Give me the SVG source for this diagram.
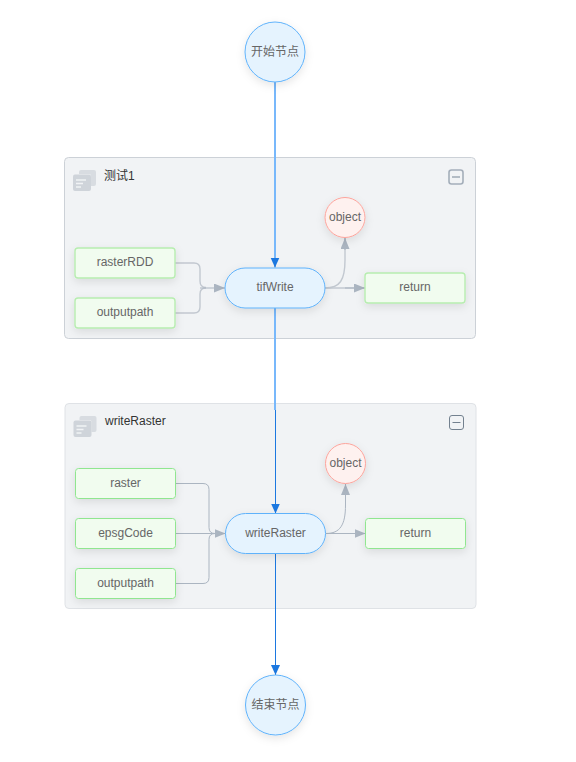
<svg xmlns="http://www.w3.org/2000/svg" width="576" height="762" viewBox="0 0 576 762">
<style>
text{font-family:"Liberation Sans","Noto Sans CJK SC",sans-serif;font-size:12px;fill:#666;text-anchor:middle;dominant-baseline:central}
.group{fill:#f1f3f5;stroke-width:1}
.title{fill:#333;text-anchor:start}
.task{fill:#f1fcef;stroke:#90e690;stroke-width:1}
.soft{stroke:#b7edb0;stroke-width:1.400}
.pill,.circle{fill:#e5f3fe;stroke:#5fb2fb;stroke-width:1}
.obj{fill:#fef1ef;stroke:#fda49c;stroke-width:1}
.edge{fill:none;stroke:#abb5c1;stroke-width:1}
.edge2{fill:none;stroke:#c2c8d0;stroke-width:1.400}
.icon{fill:#cfd4da}
.blue{fill:none;stroke:#78b8fb;stroke-width:2}
.dark{fill:none;stroke:#1c78e0;stroke-width:1}
.btn{fill:none;stroke:#a4aeba;stroke-width:1.600}
.btn2{fill:none;stroke:#73818f;stroke-width:1}
</style>
<defs>
<filter id="sh" x="-30%" y="-30%" width="160%" height="170%"><feDropShadow dx="0" dy="3" stdDeviation="4" flood-color="#000" flood-opacity="0.1"/></filter>
<marker id="ga" markerUnits="userSpaceOnUse" markerWidth="12" markerHeight="10" refX="11" refY="4.500" orient="auto"><path d="M0 0L11 4.500L0 9Z" fill="#abb5c1"/></marker>
<marker id="ba" markerUnits="userSpaceOnUse" markerWidth="10" markerHeight="12" refX="10" refY="4.500" orient="auto"><path d="M0 0L10 4.500L0 9Z" fill="#1c78e0"/></marker>
<g id="ic"><rect x="6" y="1" width="17" height="16" rx="2" class="icon" opacity=".75"/><rect x="0" y="5" width="18" height="17" rx="2" fill="#f1f3f5"/><rect x="0" y="5.500" width="18" height="16.500" rx="2" class="icon"/><path d="M3 11h10M3 14.500h7M3 18h5" stroke="#f1f3f5" stroke-width="1.300" fill="none"/></g>
</defs>

<g id="group-test1">
<rect class="group" stroke="#ccd1d7" x="64.500" y="157.500" width="411" height="181" rx="4"/>
<use href="#ic" x="73" y="169"/>
<text class="title" x="104" y="176">测试1</text>
<rect class="btn" x="449" y="170" width="14" height="14" rx="2.500"/><path class="btn" d="M452 177h8"/>
</g>
<g id="group-writeRaster">
<rect class="group" stroke="#dfe2e6" stroke-width="1.500" x="65" y="403.500" width="411" height="205" rx="4"/>
<use href="#ic" x="73.500" y="415"/>
<text class="title" x="105" y="421">writeRaster</text>
<rect class="btn2" x="449.500" y="415.500" width="14" height="14" rx="2.500"/><path class="btn2" d="M452.500 422.500h8"/>
</g>

<g id="connectors">
<path class="edge2" d="M175 263H194Q200 263 200 269V281Q200 287.500 206 287.500"/>
<path class="edge2" d="M175 313H194Q200 313 200 307V294Q200 288 206 288"/>
<path class="edge" d="M200 288H225" marker-end="url(#ga)"/>
<path class="edge2" d="M325 288C340 288 345 280 345 260V238"/>
<path class="edge" d="M345 250V238" marker-end="url(#ga)"/>
<path class="edge2" d="M325 288H365"/>
<path class="edge" d="M345 288H365" marker-end="url(#ga)"/>
<path class="edge" d="M176 483.500H203Q209 483.500 209 489.500V527.500Q209 533.500 215 533.500"/>
<path class="edge" d="M176 583.500H203Q209 583.500 209 577.500V539.500Q209 533.500 215 533.500"/>
<path class="edge" d="M176 533.500H225.500" marker-end="url(#ga)"/>
<path class="edge" d="M326 533.500C340 533.500 345.500 525 345.500 505V484" marker-end="url(#ga)"/>
<path class="edge" d="M326 533.500H365.500" marker-end="url(#ga)"/>
<path class="blue" d="M275 82V258"/>
<path class="dark" d="M275 258V267.500" marker-end="url(#ba)"/>
<path class="blue" d="M275 308V410"/>
<path class="dark" d="M275.500 410V513.500" marker-end="url(#ba)"/>
<path class="dark" d="M275.500 553.500V675" marker-end="url(#ba)"/>
</g>

<g id="start"><circle class="circle" filter="url(#sh)" cx="275" cy="52" r="30"/><text x="275" y="52">开始节点</text></g>
<g id="end"><circle class="circle" filter="url(#sh)" cx="275.500" cy="705" r="30"/><text x="275.500" y="705">结束节点</text></g>

<g id="rasterRDD"><rect class="task soft" filter="url(#sh)" x="75" y="248" width="100" height="30" rx="3"/><text x="125" y="262">rasterRDD</text></g>
<g id="outputpath1"><rect class="task soft" filter="url(#sh)" x="75" y="298" width="100" height="30" rx="3"/><text x="125" y="312">outputpath</text></g>
<g id="tifWrite"><rect class="pill" filter="url(#sh)" x="225" y="268" width="100" height="40" rx="20"/><text x="275" y="287">tifWrite</text></g>
<g id="object1"><circle class="obj" filter="url(#sh)" cx="345" cy="217.500" r="20"/><text x="345" y="217">object</text></g>
<g id="return1"><rect class="task soft" filter="url(#sh)" x="365" y="273" width="100" height="30" rx="3"/><text x="415" y="287">return</text></g>

<g id="raster"><rect class="task" filter="url(#sh)" x="75.500" y="468.500" width="100" height="30" rx="3"/><text x="125.500" y="483">raster</text></g>
<g id="epsgCode"><rect class="task" filter="url(#sh)" x="75.500" y="518.500" width="100" height="30" rx="3"/><text x="125.500" y="533">epsgCode</text></g>
<g id="outputpath2"><rect class="task" filter="url(#sh)" x="75.500" y="568.500" width="100" height="30" rx="3"/><text x="125.500" y="583">outputpath</text></g>
<g id="writeRaster"><rect class="pill" filter="url(#sh)" x="225.500" y="513.500" width="100" height="40" rx="20"/><text x="275.500" y="533">writeRaster</text></g>
<g id="object2"><circle class="obj" filter="url(#sh)" cx="345.500" cy="463.500" r="20"/><text x="345.500" y="463">object</text></g>
<g id="return2"><rect class="task" filter="url(#sh)" x="365.500" y="518.500" width="100" height="30" rx="3"/><text x="415.500" y="533">return</text></g>
</svg>
